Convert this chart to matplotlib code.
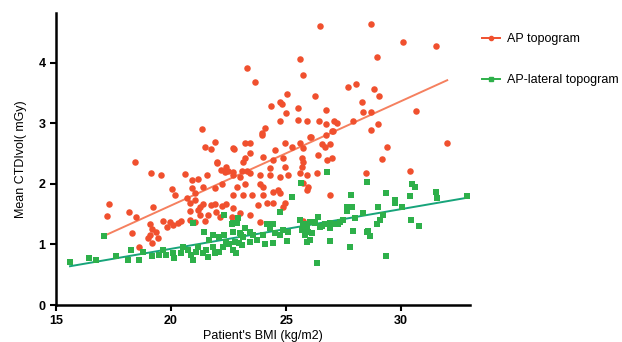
import numpy as np
import matplotlib
matplotlib.use("Agg")
import matplotlib.pyplot as plt
from matplotlib.lines import Line2D

# AP topogram: patient BMI vs mean CTDIvol
ap_bmi = [
    17.30, 17.22, 18.17, 18.48, 18.43, 19.13, 19.57, 19.22, 18.30, 18.61,
    20.61, 20.91, 21.17, 21.57, 22.00, 22.17, 22.35, 20.04, 20.17, 20.91,
    21.04, 21.39, 21.91, 22.22, 20.70, 20.83, 21.04, 21.26, 21.39, 21.74,
    21.91, 22.22, 22.39, 20.83, 21.17, 21.26, 21.61, 21.96, 22.13, 19.65,
    19.96, 20.09, 20.30, 20.43, 19.83, 19.09, 19.17, 19.35, 20.83, 21.04,
    21.48, 19.09, 19.43, 19.00, 19.17, 21.35, 21.91, 21.48, 21.74, 22.70,
    23.22, 23.43, 23.96, 24.52, 24.96, 25.26, 25.61, 25.74, 26.04, 26.57,
    26.70, 26.91, 26.39, 26.78, 27.00, 23.22, 23.13, 23.43, 24.00, 24.43,
    24.87, 25.70, 25.74, 25.70, 24.96, 24.30, 22.70, 22.70, 23.00, 23.43,
    23.87, 24.30, 24.74, 25.09, 25.61, 25.91, 26.35, 22.87, 23.22, 23.87,
    24.00, 24.43, 24.65, 24.74, 25.74, 25.96, 25.91, 22.70, 23.13, 23.52,
    24.00, 24.43, 24.17, 23.78, 24.87, 24.96, 26.91, 23.00, 23.43, 22.70,
    22.65, 23.87, 25.74, 26.74, 27.00, 26.09, 28.48, 30.39, 29.39, 29.17,
    32.00, 26.48, 28.70, 30.09, 31.52, 28.96, 25.61, 23.30, 23.65, 25.74,
    27.70, 28.04, 28.83, 29.04, 25.04, 26.26, 24.35, 24.74, 24.80, 25.52,
    25.00, 26.74, 28.30, 28.35, 28.70, 30.65, 24.74, 25.52, 25.91, 26.43,
    26.74, 27.09, 27.22, 27.91, 29.00, 28.70, 24.09, 23.96, 27.04, 22.74,
    22.00, 22.39, 22.48, 23.09, 23.30,
]
ap_ctdi = [
    1.66, 1.47, 1.54, 1.46, 2.36, 2.18, 2.15, 1.62, 1.19, 0.96,
    2.17, 2.07, 2.08, 2.15, 2.36, 2.23, 2.20, 1.92, 1.82, 1.94,
    1.85, 1.95, 1.94, 1.99, 1.77, 1.69, 1.74, 1.62, 1.67, 1.65,
    1.66, 1.64, 1.66, 1.56, 1.57, 1.49, 1.49, 1.54, 1.46, 1.39,
    1.37, 1.32, 1.36, 1.39, 1.29, 1.34, 1.26, 1.21, 1.41, 1.37,
    1.39, 1.16, 1.11, 1.11, 1.03, 2.91, 2.69, 2.61, 2.58, 2.60,
    2.68, 2.68, 2.81, 2.56, 2.68, 2.61, 2.68, 2.60, 2.78, 2.65,
    2.61, 2.65, 2.48, 2.40, 2.43, 2.43, 2.36, 2.51, 2.45, 2.40,
    2.43, 2.43, 2.36, 2.28, 2.28, 2.27, 2.20, 2.15, 2.12, 2.18,
    2.15, 2.15, 2.12, 2.15, 2.18, 2.15, 2.18, 1.95, 1.99, 1.99,
    1.95, 1.87, 1.90, 1.85, 2.02, 1.95, 1.90, 1.82, 1.82, 1.82,
    1.82, 1.69, 1.69, 1.65, 1.62, 1.69, 1.82, 1.52, 1.49, 1.61,
    1.46, 1.37, 1.39, 2.81, 2.88, 2.78, 2.18, 2.22, 2.61, 2.41,
    2.68, 4.61, 4.64, 4.34, 4.28, 4.10, 4.06, 3.91, 3.68, 3.80,
    3.60, 3.65, 3.57, 3.45, 3.49, 3.45, 3.29, 3.35, 3.31, 3.26,
    3.17, 3.22, 3.35, 3.19, 3.19, 3.21, 3.04, 3.06, 3.04, 3.04,
    2.98, 3.04, 3.01, 3.04, 2.99, 2.89, 2.93, 2.84, 2.88, 2.58,
    2.35, 2.28, 2.22, 2.22, 2.22,
]

# AP-lateral topogram
lat_bmi = [
    15.61, 16.43, 16.74, 17.09, 17.61, 18.13, 18.26, 18.61, 18.78, 19.17,
    19.48, 19.65, 19.78, 20.09, 20.13, 20.43, 20.52, 20.74, 20.87, 20.96,
    21.09, 21.17, 21.39, 21.52, 21.61, 21.83, 21.91, 22.09, 22.26, 22.30,
    22.39, 22.52, 22.70, 22.83, 22.96, 23.04, 22.70, 22.30, 22.91, 21.83,
    21.43, 20.96, 22.09, 21.65, 25.65, 25.26, 24.74, 26.78, 28.52, 27.83,
    27.65, 27.87, 28.35, 28.52, 28.00, 27.48, 27.26, 26.91, 26.91, 22.65,
    22.87, 22.70, 23.00, 23.13, 23.22, 23.43, 23.57, 23.74, 23.43, 24.00,
    24.17, 24.30, 24.43, 24.52, 24.74, 24.87, 25.09, 24.09, 24.43, 25.04,
    25.61, 25.83, 25.96, 26.17, 26.39, 26.48, 26.70, 25.91, 23.09, 22.78,
    27.65, 29.35, 29.00, 29.74, 29.74, 30.04, 30.48, 30.61, 30.39, 31.52,
    31.57, 32.87, 29.22, 29.09, 28.96, 28.57, 28.65, 27.91, 27.78, 26.35,
    29.35, 30.43, 30.78, 27.35, 27.04, 26.91, 26.57, 26.26, 26.04, 25.91,
    25.74, 25.70, 25.83, 26.13, 26.04,
]
lat_ctdi = [
    0.71, 0.78, 0.75, 1.14, 0.81, 0.75, 0.91, 0.75, 0.88, 0.81,
    0.83, 0.91, 0.83, 0.86, 0.78, 0.86, 0.96, 0.91, 0.83, 0.75,
    0.88, 0.96, 0.86, 0.91, 0.80, 0.96, 0.86, 0.88, 0.96, 1.16,
    1.04, 1.00, 0.91, 0.86, 1.03, 1.16, 1.36, 1.49, 1.44, 1.16,
    1.21, 1.36, 1.13, 1.08, 2.02, 1.79, 1.54, 2.20, 2.03, 1.82,
    1.62, 1.62, 1.52, 1.21, 1.44, 1.41, 1.33, 1.36, 1.06, 1.33,
    1.36, 1.21, 1.19, 1.13, 1.28, 1.21, 1.16, 1.08, 1.04, 1.16,
    1.33, 1.28, 1.33, 1.19, 1.16, 1.24, 1.21, 1.00, 1.03, 1.06,
    1.41, 1.33, 1.21, 1.37, 1.46, 1.29, 1.33, 1.04, 0.99, 1.04,
    1.55, 1.85, 1.62, 1.74, 1.69, 1.62, 2.00, 1.95, 1.80, 1.87,
    1.77, 1.80, 1.49, 1.41, 1.34, 1.23, 1.14, 1.23, 0.95, 0.70,
    0.81, 1.41, 1.31, 1.37, 1.33, 1.28, 1.31, 1.36, 1.37, 1.28,
    1.33, 1.24, 1.16, 1.19, 1.08,
]

AP_COLOR = "#f0502e"
AP_LINE = "#f5805f"
LAT_COLOR = "#2eb04a"
LAT_LINE = "#17a47a"

fig = plt.figure(figsize=(6.22, 3.42), dpi=100)
ax = fig.add_axes([0.090, 0.108, 0.666, 0.854])

ax.scatter(ap_bmi, ap_ctdi, s=22, marker="o", color=AP_COLOR, linewidths=0, zorder=3)
ax.scatter(lat_bmi, lat_ctdi, s=22, marker="s", color=LAT_COLOR, linewidths=0, zorder=3)

# linear fits drawn across each series' range
for xs, ys, col in [(ap_bmi, ap_ctdi, AP_LINE), (lat_bmi, lat_ctdi, LAT_LINE)]:
    xs = np.array(xs)
    k, b = np.polyfit(xs, np.array(ys), 1)
    xx = np.array([xs.min(), xs.max()])
    ax.plot(xx, k * xx + b, color=col, lw=1.4, zorder=2)

ax.set_xlim(15, 33.0)
ax.set_ylim(0, 4.82)
ax.set_xticks([15, 20, 25, 30])
ax.set_yticks([0, 1, 2, 3, 4])
for s in ["top", "right"]:
    ax.spines[s].set_visible(False)
for s in ["left", "bottom"]:
    ax.spines[s].set_linewidth(1.8)
ax.tick_params(width=1.5, length=4, labelsize=9)
for lab in ax.get_xticklabels() + ax.get_yticklabels():
    lab.set_fontweight("bold")
    lab.set_family("Liberation Sans")

ax.set_xlabel("Patient's BMI (kg/m2)", fontsize=9, family="Liberation Sans", labelpad=2)
ax.set_ylabel("Mean CTDIvol( mGy)", fontsize=9, family="Liberation Sans", labelpad=8)

handles = [
    Line2D([], [], color=AP_COLOR, marker="o", markersize=3, lw=1.4),
    Line2D([], [], color=LAT_COLOR, marker="s", markersize=3, lw=1.4),
]
fig.legend(handles, ["AP topogram", "AP-lateral topogram"], loc="upper left",
           bbox_to_anchor=(0.757, 0.935), frameon=False, handlelength=1.4,
           handletextpad=0.6, labelspacing=2.3,
           prop={"family": "Liberation Sans", "size": 9})

plt.savefig("out.png", dpi=100)
